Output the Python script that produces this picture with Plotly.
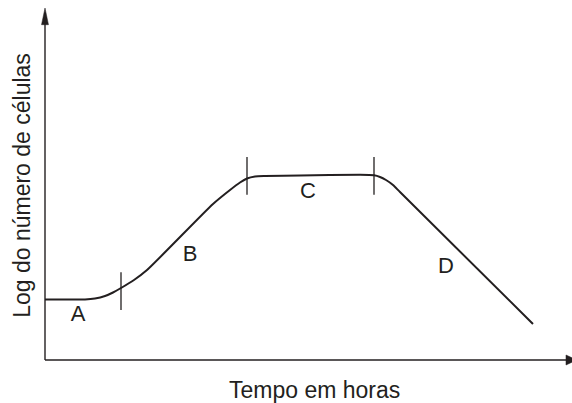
import plotly.graph_objects as go

# Growth curve (time in hours, log of cell number)
time_h = [0.00, 0.80, 1.00, 1.20, 1.36, 1.52, 1.78, 2.04, 3.36, 3.70, 3.90,
          4.04, 4.20, 4.40, 5.10, 6.30, 6.58, 6.70, 6.82, 6.96, 7.10, 9.76]
log_cells = [1.729, 1.729, 1.757, 1.829, 1.929, 2.057, 2.286, 2.571, 4.457,
             4.857, 5.071, 5.186, 5.243, 5.257, 5.271, 5.291, 5.277, 5.229,
             5.143, 5.000, 4.800, 1.029]

# Phase boundaries (vertical markers) and their centre heights
boundary_t = [1.52, 4.04, 6.58]
boundary_center = [1.97, 5.26, 5.26]
boundary_half = 0.54

# Phase labels
phase_names = ["A", "B", "C", "D"]
phase_t = [0.66, 2.90, 5.26, 8.02]
phase_y = [1.26, 3.00, 4.80, 2.63]

X_RANGE = [0, 10.54]
Y_RANGE = [0, 10.0]
INK = "#231f20"
FONT = "Liberation Sans, Arial, Helvetica, sans-serif"

fig = go.Figure()

fig.add_trace(go.Scatter(
    x=time_h, y=log_cells, mode="lines",
    line=dict(color=INK, width=2, shape="spline", smoothing=0.6),
    hoverinfo="skip", showlegend=False))

# boundary markers
bx, by = [], []
for t, c in zip(boundary_t, boundary_center):
    bx += [t, t, None]
    by += [c - boundary_half, c + boundary_half, None]
fig.add_trace(go.Scatter(
    x=bx, y=by, mode="lines", line=dict(color=INK, width=1.3),
    hoverinfo="skip", showlegend=False))

fig.add_trace(go.Scatter(
    x=phase_t, y=phase_y, mode="text", text=phase_names,
    textfont=dict(family=FONT, size=22, color=INK),
    hoverinfo="skip", showlegend=False))

# axes with arrows (paper coordinates)
fig.add_shape(type="line", xref="paper", yref="paper", x0=0, y0=0, x1=0, y1=0.96,
              line=dict(color=INK, width=1.4))
fig.add_shape(type="line", xref="paper", yref="paper", x0=0, y0=0, x1=0.99, y1=0,
              line=dict(color=INK, width=1.4))
fig.add_shape(type="path", xref="paper", yref="paper",
              path="M -0.0066,0.958 L 0.0066,0.958 L 0,1.0057 Z",
              fillcolor=INK, line=dict(color=INK, width=0.5))
fig.add_shape(type="path", xref="paper", yref="paper",
              path="M 0.9886,-0.0143 L 0.9886,0.0143 L 1.009,0 Z",
              fillcolor=INK, line=dict(color=INK, width=0.5))

fig.add_annotation(xref="paper", yref="paper", x=0.512, y=-0.086,
                   xanchor="center", yanchor="middle",
                   text="Tempo em horas", showarrow=False,
                   font=dict(family=FONT, size=23, color=INK))
fig.add_annotation(xref="paper", yref="paper", x=-0.044, y=0.5,
                   xanchor="center", yanchor="middle",
                   text="Log do número de células", showarrow=False, textangle=-90,
                   font=dict(family=FONT, size=23, color=INK))

fig.update_xaxes(range=X_RANGE, visible=False)
fig.update_yaxes(range=Y_RANGE, visible=False)
fig.update_layout(
    width=572, height=403,
    margin=dict(l=45, r=0, t=10, b=43),
    plot_bgcolor="white", paper_bgcolor="white",
)

fig.write_html(
    "out.html",
    config={"displayModeBar": False},
    post_script="document.body.style.margin='0';document.body.style.overflow='hidden';",
)
